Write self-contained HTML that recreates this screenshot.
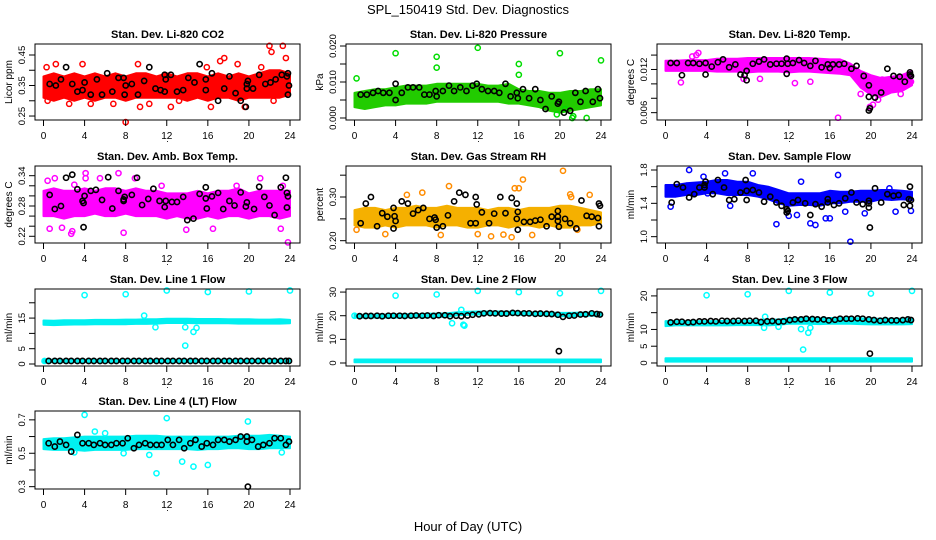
<!DOCTYPE html>
<html><head><meta charset="utf-8"><style>
html,body{margin:0;padding:0;background:#fff}
svg{display:block;font-family:"Liberation Sans",Arial,sans-serif}
</style></head><body>
<svg id="chart" width="936" height="540" viewBox="0 0 936 540">
<rect x="0" y="0" width="936" height="540" fill="#fff"/>
<text x="468" y="14" text-anchor="middle" font-size="13">SPL_150419  Std. Dev. Diagnostics</text>
<text x="468" y="531" text-anchor="middle" font-size="13">Hour of Day (UTC)</text>
</svg>
<script>
const HOURS=[0,1,2,3,4,5,6,7,8,9,10,11,12,13,14,15,16,17,18,19,20,21,22,23,24];
const XTICKS=[0,4,8,12,16,20,24];
const LBLK_H=[0.5,1.1,1.6,2.2,2.7,3.3,3.8,4.4,4.9,5.5,6,6.6,7.1,7.7,8.2,8.8,9.3,9.9,10.4,11,11.5,12.1,12.6,13.2,13.7,14.3,14.8,15.4,15.9,16.5,17,17.6,18.1,18.7,19.2,19.8,20.3,20.9,21.4,22,22.5,23.1,23.6,23.9];

const co2Lo=[0.31,0.30,0.31,0.30,0.31,0.30,0.31,0.31,0.30,0.31,0.31,0.31,0.31,0.31,0.30,0.31,0.30,0.31,0.31,0.30,0.31,0.31,0.31,0.31,0.32];
const co2Hi=[0.38,0.39,0.38,0.39,0.38,0.39,0.38,0.39,0.38,0.39,0.39,0.38,0.39,0.38,0.39,0.39,0.38,0.39,0.38,0.39,0.38,0.39,0.40,0.40,0.39];
const co2Out=[[0.3,0.41],[1.2,0.42],[0.4,0.30],[3.8,0.42],[2.5,0.29],[8,0.23],[9.2,0.42],[12.4,0.28],[15.9,0.41],[17.2,0.43],[17.6,0.44],[18.9,0.42],[19.6,0.28],[21.2,0.41],[22,0.48],[22.2,0.46],[23.3,0.48],[23.6,0.44],[22.4,0.30],[4.6,0.29],[6.8,0.29],[13.2,0.30],[16.3,0.28],[9.4,0.28],[10.3,0.29]];
const co2Blk=[[0.6,0.355],[1.2,0.35],[1.7,0.37],[2.2,0.41],[2.8,0.355],[3.3,0.33],[3.8,0.335],[4,0.36],[4.6,0.32],[5.2,0.37],[5.7,0.32],[6.2,0.39],[6.7,0.33],[7.3,0.375],[7.8,0.375],[8,0.35],[7.9,0.32],[8.6,0.355],[9.2,0.32],[9.8,0.365],[10.3,0.41],[10.9,0.34],[11.4,0.335],[11.8,0.385],[11.9,0.37],[11.8,0.33],[12.4,0.385],[13,0.33],[13.6,0.335],[14.1,0.375],[14.7,0.36],[15.2,0.42],[15.8,0.37],[15.8,0.335],[16.4,0.39],[17,0.30],[17.6,0.34],[18.1,0.38],[18.7,0.325],[19.2,0.30],[19.7,0.28],[19.8,0.34],[19.8,0.355],[19.9,0.365],[20.4,0.34],[21,0.385],[21.6,0.355],[22.1,0.36],[22.6,0.37],[23.2,0.385],[23.7,0.38],[23.8,0.32],[23.9,0.35],[23.8,0.39]];

const presLo=[0.003,0.0025,0.003,0.0035,0.0035,0.004,0.004,0.004,0.0045,0.0045,0.0045,0.0045,0.0045,0.0045,0.0045,0.004,0.004,0.0035,0.003,0.002,0.0015,0.002,0.0025,0.003,0.0035];
const presHi=[0.007,0.0075,0.008,0.008,0.0085,0.009,0.009,0.009,0.0095,0.0095,0.0095,0.0095,0.0095,0.009,0.009,0.0095,0.008,0.0075,0.0075,0.007,0.007,0.0075,0.0075,0.008,0.008];
const presOut=[[0.2,0.011],[4,0.018],[8,0.017],[8,0.014],[12,0.0195],[16,0.015],[16,0.012],[20,0.018],[24,0.016],[20.5,0.0025],[21.3,0.0005],[22.6,0.0],[19.7,0.001],[21.2,0.0]];
const presBlk=[[0.6,0.0065],[1.2,0.0065],[1.8,0.007],[2.3,0.0075],[2.8,0.007],[3.4,0.007],[4,0.0095],[4,0.005],[4.6,0.007],[5.2,0.0085],[5.7,0.0085],[6.3,0.0085],[6.8,0.0065],[7.3,0.0065],[7.9,0.0075],[8,0.006],[8.6,0.0075],[9.2,0.009],[9.7,0.0075],[10.3,0.0085],[10.9,0.0075],[11.5,0.009],[11.9,0.0095],[12.4,0.008],[13,0.0075],[13.6,0.0075],[14.1,0.007],[14.7,0.0095],[15.2,0.006],[15.8,0.007],[15.9,0.0055],[16.4,0.008],[17,0.0055],[17.6,0.008],[18.1,0.005],[18.6,0.0025],[19.2,0.006],[19.8,0.004],[19.9,0.0045],[20.4,0.0015],[21,0.002],[21.5,0.007],[22,0.0045],[22.5,0.0075],[23.2,0.0045],[23.7,0.008],[23.9,0.0055]];

const ltLo=[0.0118,0.0118,0.0118,0.0118,0.0118,0.0117,0.0117,0.0117,0.0116,0.0117,0.0117,0.0117,0.0116,0.0117,0.0117,0.0116,0.0115,0.0114,0.0112,0.0095,0.0085,0.0082,0.0088,0.009,0.0098];
const ltHi=[0.0132,0.0132,0.0133,0.0133,0.0133,0.0135,0.0135,0.0135,0.0136,0.0136,0.0136,0.0136,0.0136,0.0136,0.0136,0.0135,0.0134,0.0134,0.0128,0.0118,0.0112,0.0108,0.011,0.0112,0.0118];
const ltOut=[[1.5,0.0102],[2.6,0.0138],[3.2,0.0143],[3.0,0.0140],[7.6,0.0107],[9.2,0.0107],[12.6,0.0101],[14.1,0.0103],[16.8,0.0053],[19,0.0086],[19.9,0.0068],[20.2,0.0071],[21.1,0.0106],[22.9,0.0086],[23.9,0.0103],[20.7,0.0078]];
const ltBlk=[[0.5,0.0129],[1.1,0.0129],[1.6,0.0112],[2.2,0.0129],[2.7,0.0129],[3.3,0.0128],[3.9,0.0129],[3.9,0.0113],[4.5,0.0124],[5.1,0.013],[5.6,0.0134],[6.2,0.0123],[6.8,0.0127],[7.3,0.0113],[7.7,0.0112],[7.9,0.0118],[7.9,0.0105],[8.5,0.0128],[9.1,0.0131],[9.6,0.0134],[10.2,0.0127],[10.8,0.0128],[11.3,0.0128],[11.8,0.0135],[11.9,0.0128],[11.8,0.0114],[12.4,0.0129],[13,0.0133],[13.5,0.0129],[14.1,0.0125],[14.6,0.0132],[15.2,0.0123],[15.8,0.0127],[16,0.0122],[16.3,0.0127],[16.9,0.0127],[17.4,0.0128],[18.1,0.0121],[18.6,0.0125],[19.3,0.0111],[19.8,0.0098],[19.8,0.0082],[19.8,0.0063],[19.9,0.0066],[20.4,0.0081],[21,0.0088],[21.6,0.0121],[22.2,0.0111],[22.8,0.011],[23.3,0.0103],[23.8,0.0113],[23.9,0.0111],[23.8,0.0116]];

const abLo=[0.26,0.26,0.255,0.26,0.26,0.265,0.26,0.26,0.265,0.26,0.26,0.26,0.255,0.26,0.255,0.255,0.26,0.255,0.26,0.26,0.255,0.26,0.26,0.255,0.26];
const abHi=[0.31,0.315,0.31,0.31,0.315,0.31,0.315,0.315,0.31,0.315,0.31,0.31,0.305,0.305,0.305,0.31,0.305,0.31,0.31,0.315,0.305,0.31,0.31,0.31,0.31];
const abOut=[[0.6,0.235],[1.8,0.237],[2.7,0.225],[2.8,0.23],[4.1,0.345],[4.1,0.335],[5.5,0.335],[7.3,0.345],[7.8,0.227],[8.9,0.335],[11.5,0.32],[13.9,0.233],[16.5,0.235],[18.8,0.32],[21.1,0.335],[23.1,0.235],[23.3,0.32],[23.8,0.208],[0.4,0.33],[1.1,0.335],[3.0,0.322]];
const abBlk=[[0.6,0.302],[1.1,0.274],[1.7,0.28],[2.2,0.336],[2.8,0.342],[3.3,0.313],[3.8,0.29],[3.9,0.286],[4,0.3],[3.9,0.238],[4.6,0.31],[5.1,0.312],[5.7,0.292],[6.3,0.337],[6.7,0.275],[7.3,0.31],[7.8,0.293],[7.9,0.298],[7.8,0.29],[8.6,0.302],[9.1,0.336],[9.6,0.282],[10.2,0.294],[10.7,0.314],[11.3,0.29],[11.8,0.278],[11.9,0.29],[12.5,0.288],[13,0.288],[13.6,0.298],[14,0.252],[14.6,0.255],[15.2,0.304],[15.8,0.317],[15.8,0.295],[15.9,0.275],[16.4,0.299],[17,0.306],[17.5,0.274],[18.1,0.29],[18.6,0.281],[19.2,0.307],[19.7,0.279],[19.8,0.287],[20.5,0.274],[21,0.318],[21.5,0.298],[22,0.281],[22.5,0.262],[23.1,0.317],[23.6,0.336],[23.7,0.306],[23.8,0.299],[23.7,0.277]];

const rhLo=[0.235,0.23,0.23,0.235,0.23,0.235,0.235,0.235,0.23,0.235,0.235,0.23,0.23,0.235,0.235,0.23,0.235,0.235,0.23,0.235,0.23,0.23,0.235,0.235,0.24];
const rhHi=[0.27,0.275,0.275,0.27,0.275,0.275,0.28,0.275,0.275,0.28,0.275,0.275,0.275,0.27,0.275,0.275,0.27,0.275,0.275,0.275,0.28,0.28,0.275,0.27,0.265];
const rhOut=[[0.2,0.225],[3,0.215],[5.1,0.305],[6.6,0.31],[8.4,0.213],[9.2,0.325],[12,0.215],[13.3,0.21],[14.5,0.214],[15.3,0.208],[15.6,0.32],[16,0.32],[16.4,0.34],[17.3,0.213],[20.3,0.36],[21,0.306],[21.1,0.3],[22.9,0.305],[21.7,0.225]];
const rhBlk=[[0.6,0.24],[1.1,0.285],[1.6,0.3],[2.2,0.233],[2.7,0.263],[3.2,0.255],[3.8,0.275],[3.9,0.256],[4,0.245],[3.8,0.228],[4.6,0.29],[5.2,0.285],[5.7,0.262],[6.2,0.27],[6.7,0.275],[7.3,0.25],[7.8,0.253],[7.9,0.248],[8,0.23],[8.6,0.233],[9.1,0.258],[9.7,0.29],[10.2,0.31],[10.8,0.305],[11.3,0.24],[11.8,0.24],[11.8,0.3],[11.9,0.283],[12.4,0.265],[13.1,0.24],[13.6,0.262],[14.2,0.3],[14.7,0.263],[15.3,0.298],[15.8,0.285],[15.8,0.25],[15.9,0.266],[15.9,0.225],[16.5,0.243],[17.1,0.243],[17.6,0.246],[18.1,0.248],[18.7,0.233],[19.2,0.255],[19.8,0.268],[19.8,0.255],[19.8,0.245],[19.9,0.232],[20.5,0.25],[21,0.24],[21.6,0.228],[22.1,0.292],[22.6,0.257],[23.1,0.255],[23.7,0.252],[23.8,0.285],[23.9,0.28],[23.8,0.233]];

const sfLo=[1.48,1.48,1.5,1.5,1.52,1.52,1.5,1.5,1.5,1.48,1.45,1.4,1.37,1.38,1.38,1.37,1.4,1.4,1.42,1.42,1.42,1.45,1.44,1.45,1.44];
const sfHi=[1.62,1.62,1.64,1.65,1.66,1.68,1.68,1.66,1.66,1.62,1.6,1.56,1.52,1.52,1.52,1.52,1.55,1.54,1.54,1.55,1.55,1.56,1.56,1.55,1.54];
const sfOut=[[0.5,1.36],[2.3,1.8],[3.7,1.72],[5.8,1.76],[6.3,1.37],[8.5,1.76],[10.8,1.15],[12,1.25],[13.2,1.66],[14.1,1.16],[14.6,1.14],[15.6,1.22],[16,1.22],[16.8,1.74],[18,0.94],[17.5,1.3],[19.4,1.28],[21.8,1.58],[22.4,1.3],[23.9,1.31],[12.8,1.26],[4.1,1.52]];
const sfBlk=[[0.6,1.41],[1.1,1.63],[1.7,1.59],[2.3,1.47],[2.8,1.51],[3.3,1.59],[3.8,1.59],[3.8,1.62],[3.9,1.66],[4.6,1.51],[5.1,1.68],[5.7,1.59],[6.2,1.44],[6.7,1.45],[7.3,1.53],[7.8,1.68],[7.9,1.55],[7.9,1.44],[8.5,1.56],[9.1,1.53],[9.6,1.42],[10.2,1.48],[10.8,1.41],[11.3,1.37],[11.8,1.33],[11.9,1.31],[11.8,1.29],[12.4,1.41],[12.9,1.44],[13.6,1.4],[14.1,1.26],[14.6,1.39],[15.2,1.36],[15.8,1.41],[15.8,1.45],[16.4,1.38],[16.9,1.40],[17.5,1.46],[18.1,1.53],[18.6,1.41],[19.2,1.39],[19.8,1.43],[19.8,1.40],[19.8,1.35],[19.9,1.11],[20.4,1.58],[21,1.41],[21.6,1.51],[22.2,1.49],[22.7,1.5],[23.2,1.38],[23.7,1.45],[23.8,1.6],[23.9,1.44],[23.8,1.37]];

const l1Lo=[12.8,12.7,12.8,12.9,12.9,13,13,13,13,13.1,13.1,13.2,13.4,13.4,13.4,13.3,13.3,13.3,13.3,13.2,13.2,13.2,13.2,13.2,13.3];
const l1Hi=[14.2,14.1,14.3,14.3,14.3,14.4,14.4,14.4,14.5,14.5,14.6,14.6,14.8,14.8,14.8,14.7,14.7,14.7,14.6,14.6,14.6,14.5,14.5,14.6,14.4];
const l1Lo2=[0.6,0.6,0.6,0.6,0.6,0.6,0.6,0.6,0.6,0.6,0.6,0.6,0.6,0.6,0.6,0.6,0.6,0.6,0.6,0.6,0.6,0.6,0.6,0.6,0.6];
const l1Hi2=[1.4,1.4,1.4,1.4,1.4,1.4,1.4,1.4,1.4,1.4,1.4,1.4,1.4,1.4,1.4,1.4,1.4,1.4,1.4,1.4,1.4,1.4,1.4,1.4,1.4];
const l1Out=[[4,22.5],[8,22.8],[12,24],[16,23.5],[20,23.7],[24,24],[9.8,15.8],[10.9,12],[13.8,12],[13.8,6],[14.6,10.5],[14.9,11.8],[0.1,1]];
const l1BlkV=[1,1,1,1,1,1,1,1,1,1,1,1,1,1,1,1,1,1,1,1,1,1,1,1,1,1,1,1,1,1,1,1,1,1,1,1,1,1,1,1,1,1,1,1];
const l1Extra=[];

const l2Lo=[19.2,19.2,19.2,19.2,19.2,19.3,19.3,19.3,19.5,19.6,20.2,20.4,20.5,20.5,20.5,20.5,20.4,20.3,20.2,20.2,19.8,19.8,20,20,20.1];
const l2Hi=[20.4,20.4,20.5,20.5,20.6,20.6,20.7,20.8,20.9,21,21.5,21.7,21.8,21.8,21.8,21.7,21.6,21.4,21.4,21.3,21.2,21.2,21.3,21.3,21.3];
const l2Lo2=[0.3,0.3,0.3,0.3,0.3,0.3,0.3,0.3,0.3,0.3,0.3,0.3,0.3,0.3,0.3,0.3,0.3,0.3,0.3,0.3,0.3,0.3,0.3,0.3,0.3];
const l2Hi2=[1.5,1.5,1.5,1.5,1.5,1.5,1.5,1.5,1.5,1.5,1.5,1.5,1.5,1.5,1.5,1.5,1.5,1.5,1.5,1.5,1.5,1.5,1.5,1.5,1.5];
const l2Out=[[4,28.5],[8,29],[12,30.5],[16,30],[20,29.5],[24,30.5],[9.5,16.8],[10.6,16.2],[10.7,15.8],[10.4,22.5],[0,20]];
const l2BlkV=[19.8,19.9,19.9,20,19.8,20,20,20,19.9,20,20.1,20,20.1,19.9,20.2,20.2,19.8,20,19.8,20.1,20.4,20.6,21,21.1,21,20.9,20.9,21.2,21.1,21,21,20.8,20.9,20.8,20.7,20.4,19.5,20,20.1,20.5,20.6,21,20.7,20.5];
const l2Extra=[[19.9,5]];

const l3Lo=[11,11.2,11.2,11.2,11.2,11.2,11.2,11.3,11.3,11.3,11.2,11.4,11.7,11.7,11.7,11.6,11.7,11.7,11.7,11.6,11.5,11.5,11.5,11.5,11.6];
const l3Hi=[12.5,12.5,12.5,12.5,12.5,12.5,12.6,12.6,12.6,12.8,12.8,13,13.3,13.4,13.4,13.3,13.4,13.4,13.4,13.3,13.2,13.2,13.2,13.2,13.2];
const l3Lo2=[0.4,0.4,0.4,0.4,0.4,0.4,0.4,0.4,0.4,0.4,0.4,0.4,0.4,0.4,0.4,0.4,0.4,0.4,0.4,0.4,0.4,0.4,0.4,0.4,0.4];
const l3Hi2=[1.4,1.4,1.4,1.4,1.4,1.4,1.4,1.4,1.4,1.4,1.4,1.4,1.4,1.4,1.4,1.4,1.4,1.4,1.4,1.4,1.4,1.4,1.4,1.4,1.4];
const l3Out=[[4,20.2],[8,20.5],[12,21.5],[16,21],[20,20.7],[24,21.5],[13.4,4],[13.2,10.1],[13.9,9],[14.1,10.5],[9.6,10.5],[9.7,13.8],[11,10.8]];
const l3BlkV=[12.1,12.3,12.3,12.1,12.2,12.4,12.4,12.5,12.4,12.6,12.5,12.5,12.6,12.5,12.6,12.6,12.2,12.4,12.5,12.3,12.4,12.8,13,13,13.2,13.1,13,13,12.7,12.9,13.2,13.2,13.2,13.3,13.2,13,12.8,12.6,12.8,12.7,12.7,12.8,13,12.8];
const l3Extra=[[19.9,2.8]];

const l4Lo=[0.525,0.52,0.52,0.52,0.515,0.52,0.52,0.52,0.52,0.525,0.525,0.525,0.525,0.525,0.525,0.52,0.525,0.525,0.53,0.53,0.525,0.525,0.53,0.53,0.53];
const l4Hi=[0.585,0.59,0.59,0.595,0.6,0.6,0.6,0.6,0.6,0.605,0.605,0.605,0.6,0.6,0.6,0.6,0.6,0.6,0.6,0.605,0.605,0.605,0.61,0.605,0.6];
const l4Out=[[4,0.73],[5,0.63],[6,0.62],[10.3,0.49],[11,0.38],[12,0.71],[13.5,0.45],[14.6,0.42],[16,0.43],[19.9,0.69],[3,0.505],[7.8,0.5],[23.2,0.505]];
const l4BlkV=[0.56,0.54,0.57,0.55,0.51,0.61,0.56,0.56,0.55,0.56,0.55,0.55,0.56,0.56,0.59,0.53,0.55,0.56,0.55,0.55,0.55,0.58,0.55,0.58,0.53,0.56,0.58,0.54,0.56,0.55,0.58,0.58,0.57,0.58,0.6,0.57,0.58,0.54,0.55,0.56,0.59,0.59,0.55,0.57];
const l4Extra=[[19.9,0.3],[19.8,0.6]];

const NS="http://www.w3.org/2000/svg";
const svg=document.getElementById('chart');
function mk(tag,attrs,parent){const e=document.createElementNS(NS,tag);for(const k in attrs)e.setAttribute(k,attrs[k]);(parent||svg).appendChild(e);return e;}
function pairs(hs,vs){return hs.map((h,i)=>[h,vs[i]]);}

const ROWS=[[44,120],[166,243],[289,366],[411,489]];
const panels=[
 {name:'co2',title:'Stan. Dev. Li-820 CO2',ylab:'Licor ppm',c:0,r:0,dom:[0.237,0.486],ticks:[0.25,0.30,0.35,0.40,0.45],labs:['0.25','','0.35','','0.45'],col:'#ff0000',band:'#ff0000',bands:[[co2Lo,co2Hi]],out:co2Out,blk:co2Blk},
 {name:'pressure',title:'Stan. Dev. Li-820 Pressure',ylab:'kPa',c:1,r:0,dom:[-0.00056,0.02056],ticks:[0,0.005,0.010,0.015,0.020],labs:['0.000','','0.010','','0.020'],col:'#00dd00',band:'#22cc00',bands:[[presLo,presHi]],out:presOut,blk:presBlk},
 {name:'li820-temp',title:'Stan. Dev. Li-820 Temp.',ylab:'degrees C',c:2,r:0,dom:[0.00498,0.01554],ticks:[0.006,0.008,0.010,0.012,0.014],labs:['0.006','','','0.012',''],col:'#ff00ff',band:'#ff00ff',bands:[[ltLo,ltHi]],out:ltOut,blk:ltBlk},
 {name:'amb-box-temp',title:'Stan. Dev. Amb. Box Temp.',ylab:'degrees C',c:0,r:1,dom:[0.2067,0.3592],ticks:[0.22,0.24,0.26,0.28,0.30,0.32,0.34],labs:['0.22','','','0.28','','','0.34'],col:'#ff00ff',band:'#ff00ff',bands:[[abLo,abHi]],out:abOut,blk:abBlk},
 {name:'gas-stream-rh',title:'Stan. Dev. Gas Stream RH',ylab:'percent',c:1,r:1,dom:[0.1947,0.371],ticks:[0.20,0.25,0.30,0.35],labs:['0.20','','0.30',''],col:'#ff8c00',band:'#f5b000',bands:[[rhLo,rhHi]],out:rhOut,blk:rhBlk},
 {name:'sample-flow',title:'Stan. Dev. Sample Flow',ylab:'ml/min',c:2,r:1,dom:[0.924,1.848],ticks:[1.0,1.2,1.4,1.6,1.8],labs:['1.0','','1.4','','1.8'],col:'#0000ff',band:'#0000ff',bands:[[sfLo,sfHi]],out:sfOut,blk:sfBlk},
 {name:'line1-flow',title:'Stan. Dev. Line 1 Flow',ylab:'ml/min',c:0,r:2,dom:[-0.65,24.5],ticks:[0,5,10,15,20],labs:['0','5','','15',''],col:'#00ffff',band:'#00f0f0',bands:[[l1Lo,l1Hi],[l1Lo2,l1Hi2]],out:l1Out,blk:pairs(LBLK_H,l1BlkV).concat(l1Extra)},
 {name:'line2-flow',title:'Stan. Dev. Line 2 Flow',ylab:'ml/min',c:1,r:2,dom:[-1.27,31.3],ticks:[0,10,20,30],labs:['0','10','20','30'],col:'#00ffff',band:'#00f0f0',bands:[[l2Lo,l2Hi],[l2Lo2,l2Hi2]],out:l2Out,blk:pairs(LBLK_H,l2BlkV).concat(l2Extra)},
 {name:'line3-flow',title:'Stan. Dev. Line 3 Flow',ylab:'ml/min',c:2,r:2,dom:[-0.9,22.06],ticks:[0,5,10,15,20],labs:['0','5','10','','20'],col:'#00ffff',band:'#00f0f0',bands:[[l3Lo,l3Hi],[l3Lo2,l3Hi2]],out:l3Out,blk:pairs(LBLK_H,l3BlkV).concat(l3Extra)},
 {name:'line4-flow',title:'Stan. Dev. Line 4 (LT) Flow',ylab:'ml/min',c:0,r:3,dom:[0.286,0.753],ticks:[0.3,0.4,0.5,0.6,0.7],labs:['0.3','','0.5','','0.7'],col:'#00ffff',band:'#00f0f0',bands:[[l4Lo,l4Hi]],out:l4Out,blk:pairs(LBLK_H,l4BlkV).concat(l4Extra)}
];

panels.forEach(p=>{
  const L=35+311*p.c, R=L+265, T=ROWS[p.r][0], B=ROWS[p.r][1];
  const x=h=>L+8.5+h*(246.5/24);
  const y=v=>B-(v-p.dom[0])/(p.dom[1]-p.dom[0])*(B-T);
  const g=mk('g',{});
  
  
  const t=mk('text',{x:(L+R)/2,y:T-6,'text-anchor':'middle','font-size':11,'font-weight':'bold'},g);
  t.textContent=p.title;
  
  
  p.bands.forEach(([lo,hi],bi)=>{
    let d='';
    HOURS.forEach((h,i)=>{d+=(i?'L':'M')+x(h).toFixed(1)+','+y(hi[i]).toFixed(1);});
    for(let i=HOURS.length-1;i>=0;i--)d+='L'+x(HOURS[i]).toFixed(1)+','+y(lo[i]).toFixed(1);
    d+='Z';
    const b=mk('path',{d:d,fill:p.band,stroke:p.band,'stroke-width':2,'stroke-linejoin':'round'},g);
    
    
  });
  p.out.forEach(([h,v])=>{
    const c=mk('circle',{cx:x(h),cy:y(v),r:2.6,fill:'none',stroke:p.col,'stroke-width':1.5},g);
    
    
  });
  p.blk.forEach(([h,v])=>{
    const c=mk('circle',{cx:x(h),cy:y(v),r:2.6,fill:'none',stroke:'#000','stroke-width':1.6},g);
    
    
  });
  const box=mk('rect',{x:L,y:T,width:R-L,height:B-T,fill:'none',stroke:'#000','stroke-width':1},g);
  
  
  XTICKS.forEach(h=>{
    mk('line',{x1:x(h),x2:x(h),y1:B,y2:B+6,stroke:'#000'},g);
    const tl=mk('text',{x:x(h),y:B+19,'text-anchor':'middle','font-size':10},g);
    tl.textContent=h;
    
    
  });
  const dot=mk('text',{x:(L+R)/2,y:B+22,'text-anchor':'middle','font-size':9},g);dot.textContent='.';
  p.ticks.forEach((v,i)=>{
    mk('line',{x1:L-6,x2:L,y1:y(v),y2:y(v),stroke:'#000'},g);
    if(p.labs[i]){
      const tl=mk('text',{x:0,y:0,'text-anchor':'middle','font-size':9.5,transform:`translate(${L-10},${y(v)}) rotate(-90)`},g);
      tl.textContent=p.labs[i];
      
      
    }
  });
  const yl=mk('text',{x:0,y:0,'text-anchor':'middle','font-size':10,transform:`translate(${L-23},${(T+B)/2}) rotate(-90)`},g);
  yl.textContent=p.ylab;
  
  
});
</script>
</body></html>
